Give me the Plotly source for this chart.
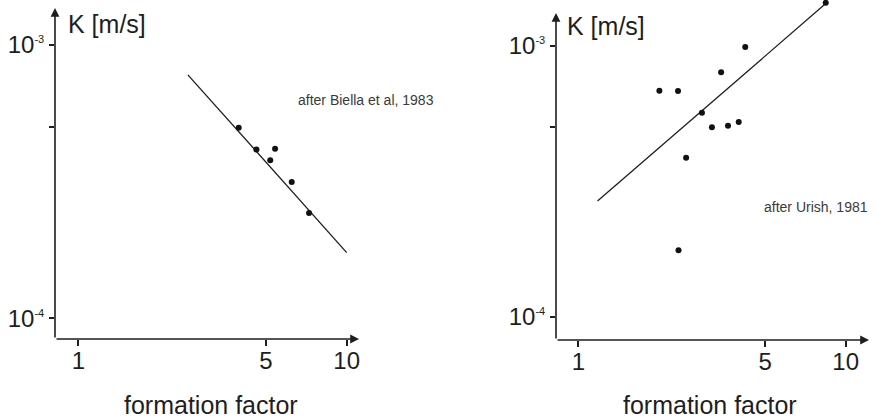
import plotly.graph_objects as go

# ---------------- data ----------------
biella_ff = [3.96, 4.61, 5.41, 5.19, 6.24, 7.24]
biella_k = [4.98e-4, 4.15e-4, 4.17e-4, 3.79e-4, 3.15e-4, 2.43e-4]
biella_fit_ff = [2.56, 10.0]
biella_fit_k = [7.78e-4, 1.74e-4]

urish_ff = [2.01, 2.36, 3.42, 4.21, 2.90, 3.16, 3.63, 3.98, 2.53, 2.37, 8.42]
urish_k = [6.82e-4, 6.81e-4, 7.98e-4, 9.89e-4, 5.66e-4, 5.0e-4, 5.07e-4, 5.23e-4, 3.86e-4, 1.76e-4, 1.44e-3]
urish_fit_ff = [1.18, 8.42]
urish_fit_k = [2.67e-4, 1.43e-3]

x_tickvals = [1, 5, 10]
x_ticktext = ["1", "5", "10"]
y_tickvals = [1e-4, 1e-3]
y_ticktext = ["10<sup><span style='font-size:11px'>-4</span></sup>",
              "10<sup><span style='font-size:11px'>-3</span></sup>"]
y_minor_tickvals = [5e-4]

W, H = 877, 419
FONT = "Liberation Sans, Arial, sans-serif"
INK = "#1e1e1e"

def px(x):
    return x / W

def py(y):
    return 1 - y / H

fig = go.Figure()

# left panel
fig.add_trace(go.Scatter(x=biella_fit_ff, y=biella_fit_k, mode="lines",
                         line=dict(color=INK, width=1.3), xaxis="x", yaxis="y",
                         showlegend=False, hoverinfo="skip"))
fig.add_trace(go.Scatter(x=biella_ff, y=biella_k, mode="markers",
                         marker=dict(color="#111", size=6), xaxis="x", yaxis="y",
                         showlegend=False, cliponaxis=False))
# right panel
fig.add_trace(go.Scatter(x=urish_fit_ff, y=urish_fit_k, mode="lines",
                         line=dict(color=INK, width=1.3), xaxis="x2", yaxis="y2",
                         showlegend=False, hoverinfo="skip"))
fig.add_trace(go.Scatter(x=urish_ff, y=urish_k, mode="markers",
                         marker=dict(color="#111", size=6), xaxis="x2", yaxis="y2",
                         showlegend=False, cliponaxis=False))

xa = dict(type="log", showgrid=False, zeroline=False, showline=False,
          ticks="outside", ticklen=6, tickwidth=1.5, tickcolor=INK,
          tickvals=x_tickvals, ticktext=x_ticktext, ticklabelstandoff=-6,
          tickfont=dict(family=FONT, size=24, color=INK), automargin=False)
ya = dict(type="log", showgrid=False, zeroline=False, showline=False,
          ticks="outside", ticklen=5, tickwidth=1.5, tickcolor=INK,
          tickvals=y_tickvals, ticktext=y_ticktext,
          minor=dict(tickvals=y_minor_tickvals, ticks="outside", ticklen=5,
                     tickwidth=1.5, tickcolor=INK, showgrid=False),
          tickfont=dict(family=FONT, size=24, color=INK), automargin=False)

fig.update_layout(
    width=W, height=H, margin=dict(l=0, r=0, t=0, b=0),
    paper_bgcolor="white", plot_bgcolor="white",
    xaxis=dict(xa, domain=[px(55), px(360)], range=[-0.0868, 1.0496], anchor="y"),
    yaxis=dict(ya, domain=[py(339), 1], range=[-4.0757, -2.8353], anchor="x"),
    xaxis2=dict(xa, domain=[px(556), 1], range=[-0.0834, 1.117], anchor="y2"),
    yaxis2=dict(ya, domain=[py(340), 1], range=[-4.086, -2.8314], anchor="x2"),
)

ann = []
# axis arrows
def arrow(hx, hy, ax, ay):
    return dict(x=px(hx), y=py(hy), xref="paper", yref="paper", ax=ax, ay=ay,
                axref="pixel", ayref="pixel", text="", showarrow=True,
                arrowhead=2, arrowsize=1.1, arrowwidth=1.6, arrowcolor=INK, standoff=0)

ann += [arrow(55, 8, 0, 331), arrow(359, 339, -304, 0),
        arrow(556, 13, 0, 327), arrow(869, 340, -313, 0)]

def label(x, y, text, size, xanchor="left", color=INK):
    return dict(x=px(x), y=py(y), xref="paper", yref="paper", text=text,
                showarrow=False, xanchor=xanchor, yanchor="middle",
                font=dict(family=FONT, size=size, color=color))

ann += [
    label(66, 24, "K [m/s]", 25),
    label(565, 26, "K [m/s]", 25),
    label(211, 405, "formation factor", 25, xanchor="center"),
    label(710, 405, "formation factor", 25, xanchor="center"),
    label(296, 100, "after Biella et al, 1983", 14, color="#3a3a3a"),
    label(762, 207, "after Urish, 1981", 14, color="#3a3a3a"),
]
fig.update_layout(annotations=ann)

fig.write_html("out.html", post_script="document.body.style.margin='0';",
               config={"displayModeBar": False})
